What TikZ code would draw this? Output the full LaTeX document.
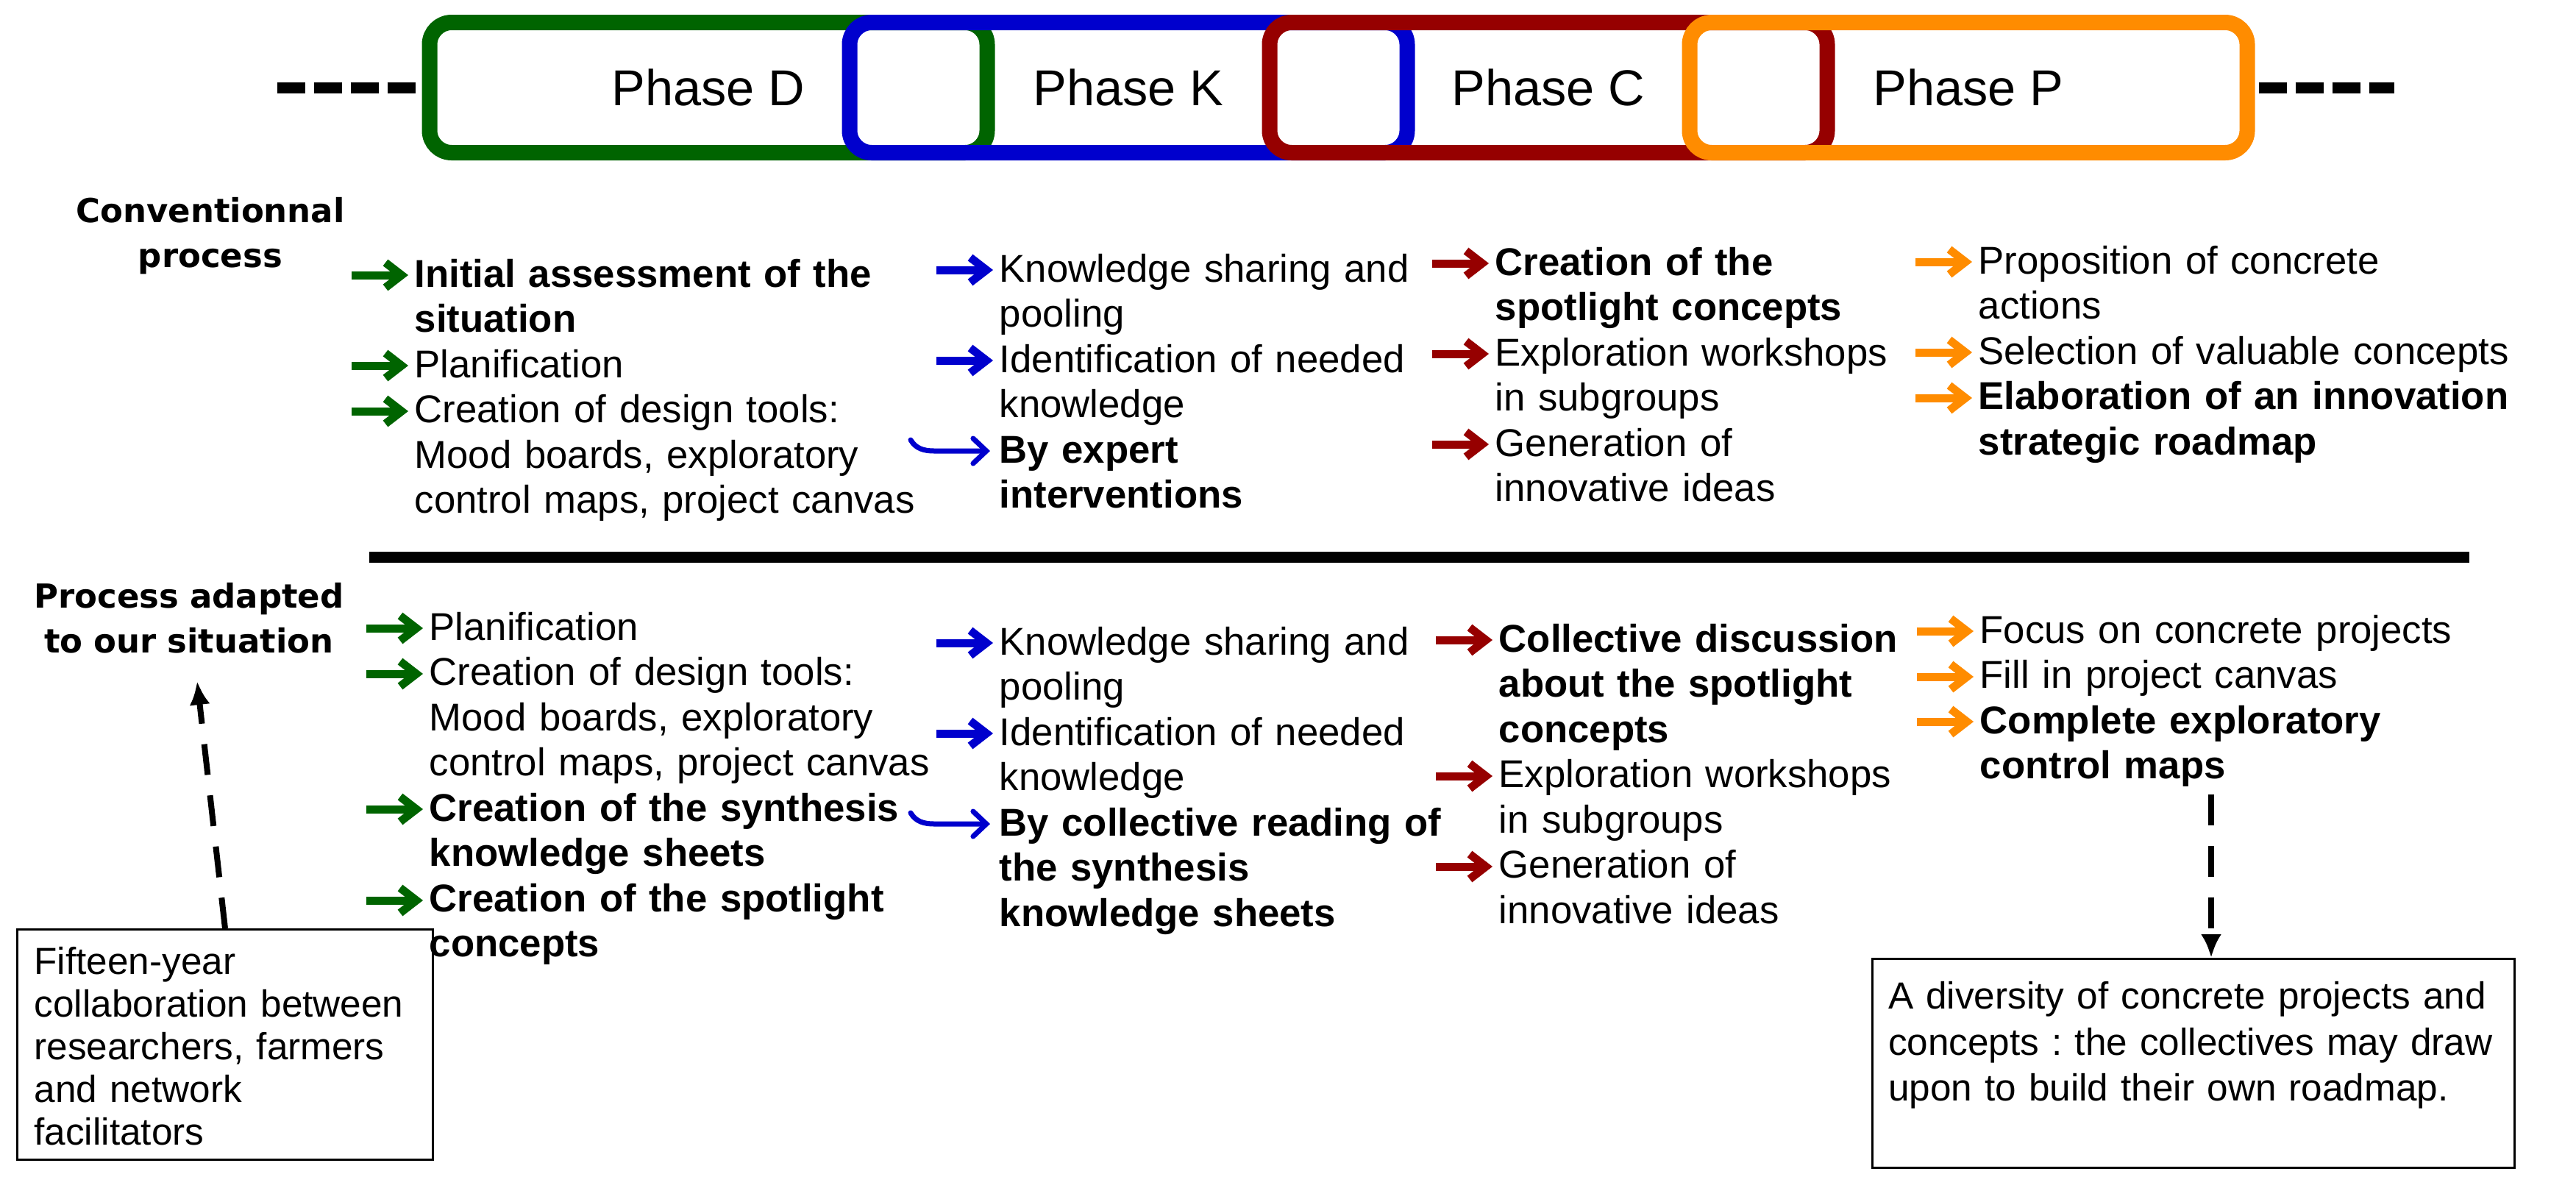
\documentclass[tikz,border=0pt]{standalone}
\usepackage{fontspec}
\setmainfont{Liberation Sans}
\newfontfamily\headfont{DejaVu Sans}
\usetikzlibrary{positioning,arrows.meta}
\definecolor{dgreen}{RGB}{0,100,0}
\definecolor{mblue}{RGB}{0,0,205}
\definecolor{dred}{RGB}{150,0,0}
\definecolor{dorange}{RGB}{255,140,0}
\frenchspacing

\begin{document}
\begin{tikzpicture}[
  phasebox/.style={rectangle, draw=#1, line width=0.21cm, rounded corners=0.3cm,
    minimum width=7.58cm, minimum height=1.77cm, font=\fontsize{19.5pt}{23pt}\selectfont},
  block/.style={anchor=base west, inner sep=0pt, text width=7.6cm, align=left,
    font=\fontsize{15pt}{17.5pt}\selectfont},
  heading/.style={anchor=base, inner sep=0pt, text width=5cm, align=center,
    font=\headfont\bfseries\fontsize{12.8pt}{17.4pt}\selectfont},
  notebox/.style={draw, line width=0.03cm, anchor=north west, align=left,
    font=\fontsize{14.6pt}{16.5pt}\selectfont},
  bul/.style={line width=0.11cm, -{Straight Barb[length=0.22cm,width=0.34cm]}},
  hookbul/.style={line width=0.07cm, line cap=round,
    -{Straight Barb[length=0.18cm,width=0.34cm,line cap=round]}},
  trail/.style={line width=0.15cm, dash pattern=on 0.38cm off 0.12cm},
  dasharr/.style={line width=0.08cm, dash pattern=on 0.42cm off 0.28cm,
    -{Latex[length=0.32cm,width=0.28cm]}}
]
\useasboundingbox (0,0) rectangle (35.02,-16.33);

% phases
\node[phasebox=dgreen] (pD) at (9.63,-1.19) {Phase D};
\node[phasebox=mblue, right=-2.08cm of pD] (pK) {Phase K};
\node[phasebox=dred, right=-2.08cm of pK] (pC) {Phase C};
\node[phasebox=dorange, right=-2.08cm of pC] (pP) {Phase P};
\draw[trail] ([xshift=-1.97cm]pD.west) -- ([xshift=-0.09cm]pD.west);
\draw[trail] ([xshift=0.05cm]pP.east) -- ([xshift=1.89cm]pP.east);

% row titles
\node[heading] (conv) at (2.86,-3.02) {Conventionnal\\process};
\node[heading] (adp) at (2.57,-8.26) {Process adapted\\to our situation};
\draw[line width=0.15cm] (5.02,-7.57) -- (33.57,-7.57);

% conventional process
\node[block] (g1) at (5.63,-3.90) {\textbf{Initial assessment of the}\\\textbf{situation}\\Planification\\Creation of design tools:\\Mood boards, exploratory\\control maps, project canvas};
\node[block] (k1) at (13.58,-3.83) {Knowledge sharing and\\pooling\\Identification of needed\\knowledge\\\textbf{By expert}\\\textbf{interventions}};
\node[block] (c1) at (20.32,-3.74) {\textbf{Creation of the}\\\textbf{spotlight concepts}\\Exploration workshops\\in subgroups\\Generation of\\innovative ideas};
\node[block] (p1) at (26.89,-3.72) {Proposition of concrete\\actions\\Selection of valuable concepts\\\textbf{Elaboration of an innovation}\\\textbf{strategic roadmap}};

\draw[bul, dgreen] ([shift={(-0.85,0.16)}]g1.base west) -- ++(0.77,0);
\draw[bul, dgreen] ([shift={(-0.85,-1.07)}]g1.base west) -- ++(0.77,0);
\draw[bul, dgreen] ([shift={(-0.85,-1.69)}]g1.base west) -- ++(0.77,0);
\draw[bul, mblue] ([shift={(-0.85,0.16)}]k1.base west) -- ++(0.77,0);
\draw[bul, mblue] ([shift={(-0.85,-1.07)}]k1.base west) -- ++(0.77,0);
\draw[hookbul, mblue] ([shift={(-1.20,-2.15)}]k1.base west) to[out=-60,in=180]
  ([shift={(-0.88,-2.30)}]k1.base west) -- ([shift={(-0.12,-2.30)}]k1.base west);
\draw[bul, dred] ([shift={(-0.85,0.16)}]c1.base west) -- ++(0.77,0);
\draw[bul, dred] ([shift={(-0.85,-1.07)}]c1.base west) -- ++(0.77,0);
\draw[bul, dred] ([shift={(-0.85,-2.30)}]c1.base west) -- ++(0.77,0);
\draw[bul, dorange] ([shift={(-0.85,0.16)}]p1.base west) -- ++(0.77,0);
\draw[bul, dorange] ([shift={(-0.85,-1.07)}]p1.base west) -- ++(0.77,0);
\draw[bul, dorange] ([shift={(-0.85,-1.69)}]p1.base west) -- ++(0.77,0);

% adapted process
\node[block] (g2) at (5.83,-8.70) {Planification\\Creation of design tools:\\Mood boards, exploratory\\control maps, project canvas\\\textbf{Creation of the synthesis}\\\textbf{knowledge sheets}\\\textbf{Creation of the spotlight}\\\textbf{concepts}};
\node[block] (k2) at (13.58,-8.90) {Knowledge sharing and\\pooling\\Identification of needed\\knowledge\\\textbf{By collective reading of}\\\textbf{the synthesis}\\\textbf{knowledge sheets}};
\node[block] (c2) at (20.37,-8.86) {\textbf{Collective discussion}\\\textbf{about the spotlight}\\\textbf{concepts}\\Exploration workshops\\in subgroups\\Generation of\\innovative ideas};
\node[block] (p2) at (26.91,-8.74) {Focus on concrete projects\\Fill in project canvas\\\textbf{Complete exploratory}\\\textbf{control maps}};

\draw[bul, dgreen] ([shift={(-0.85,0.16)}]g2.base west) -- ++(0.77,0);
\draw[bul, dgreen] ([shift={(-0.85,-0.46)}]g2.base west) -- ++(0.77,0);
\draw[bul, dgreen] ([shift={(-0.85,-2.30)}]g2.base west) -- ++(0.77,0);
\draw[bul, dgreen] ([shift={(-0.85,-3.54)}]g2.base west) -- ++(0.77,0);
\draw[bul, mblue] ([shift={(-0.85,0.16)}]k2.base west) -- ++(0.77,0);
\draw[bul, mblue] ([shift={(-0.85,-1.07)}]k2.base west) -- ++(0.77,0);
\draw[hookbul, mblue] ([shift={(-1.20,-2.15)}]k2.base west) to[out=-60,in=180]
  ([shift={(-0.88,-2.30)}]k2.base west) -- ([shift={(-0.12,-2.30)}]k2.base west);
\draw[bul, dred] ([shift={(-0.85,0.16)}]c2.base west) -- ++(0.77,0);
\draw[bul, dred] ([shift={(-0.85,-1.69)}]c2.base west) -- ++(0.77,0);
\draw[bul, dred] ([shift={(-0.85,-2.92)}]c2.base west) -- ++(0.77,0);
\draw[bul, dorange] ([shift={(-0.85,0.16)}]p2.base west) -- ++(0.77,0);
\draw[bul, dorange] ([shift={(-0.85,-0.46)}]p2.base west) -- ++(0.77,0);
\draw[bul, dorange] ([shift={(-0.85,-1.07)}]p2.base west) -- ++(0.77,0);

% notes
\node[notebox, text width=5.19cm, inner xsep=0.23cm, inner ysep=0.23cm,
  text height=0.38cm, text depth=2.29cm] (fif) at (0.22,-12.62)
  {Fifteen-year\\collaboration between\\researchers, farmers\\and network\\facilitators};
\node[notebox, text width=8.3cm, inner xsep=0.215cm, inner ysep=0.31cm,
  text height=0.37cm, text depth=1.85cm, font=\fontsize{14.6pt}{17.8pt}\selectfont] (div) at (25.44,-13.02)
  {A diversity of concrete projects and\\concepts : the collectives may draw\\upon to build their own roadmap.};

\coordinate (out) at ([shift={(3.15,-2.06)}]p2.base west);
\draw[dasharr] (out) -- (out |- div.north);
\draw[dasharr] (fif.north) -- ([shift={(0.11,-1.0)}]adp.base);
\end{tikzpicture}
\end{document}
